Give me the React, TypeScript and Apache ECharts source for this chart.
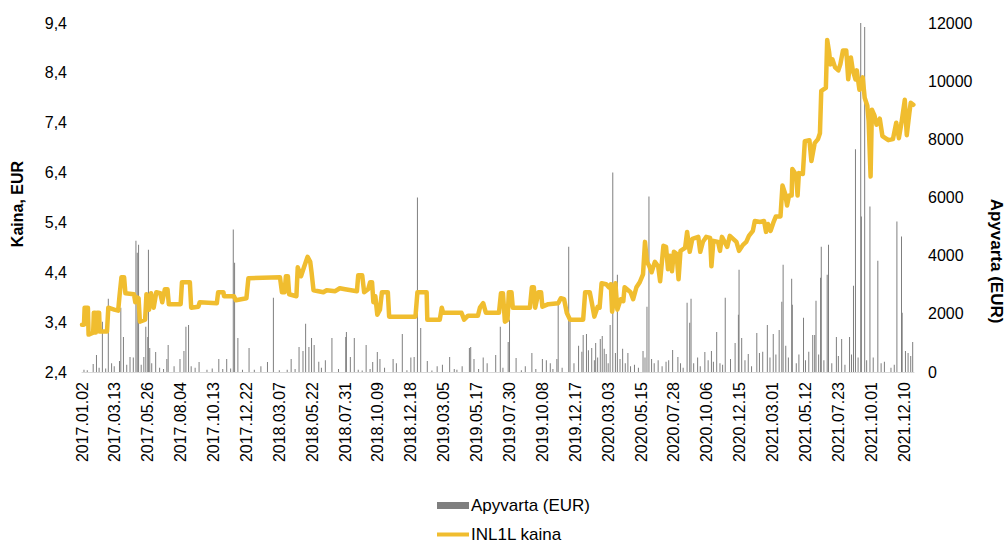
import React, { useEffect, useRef } from "react";
import * as echarts from "echarts";

const FONT = "'Liberation Sans', Arial, sans-serif";

// x tick labels, one every 50 trading days (index 0 = 2017.01.02)
const tickLabels = [
  "2017.01.02", "2017.03.13", "2017.05.26", "2017.08.04", "2017.10.13", "2017.12.22",
  "2018.03.07", "2018.05.22", "2018.07.31", "2018.10.09", "2018.12.18",
  "2019.03.05", "2019.05.17", "2019.07.30", "2019.10.08", "2019.12.17",
  "2020.03.03", "2020.05.15", "2020.07.28", "2020.10.06", "2020.12.15",
  "2021.03.01", "2021.05.12", "2021.07.23", "2021.10.01", "2021.12.10",
];

// INL1L price: trading-day index and price (EUR)
const priceDay = [
  0, 3, 4, 9, 10, 17, 18, 20, 21, 23, 26, 27, 38, 40, 49, 55, 57, 60, 64, 66, 79, 81, 83, 86, 88, 96, 98, 102, 105, 109,
  113, 119, 122, 126, 130, 132, 150, 152, 164, 166, 177, 179, 205, 207, 215, 216, 231, 234, 250, 253, 301, 304, 308, 310, 313, 315, 326, 328, 333, 338,
  343, 347, 349, 352, 367, 372, 385, 392, 400, 418, 420, 426, 429, 435, 438, 441, 443, 446, 449, 453, 456, 465, 467, 507, 510, 524, 525, 544, 547, 549,
  577, 581, 587, 602, 605, 610, 614, 634, 637, 640, 643, 647, 649, 653, 655, 681, 684, 687, 689, 694, 698, 700, 709, 724, 728, 733, 737, 742, 762, 765,
  772, 775, 779, 784, 787, 790, 797, 801, 804, 806, 809, 811, 814, 819, 823, 825, 834, 838, 843, 848, 853, 856, 859, 862, 866, 871, 876, 879, 884, 888,
  891, 894, 897, 900, 904, 907, 910, 917, 920, 924, 928, 937, 940, 944, 949, 955, 957, 960, 967, 970, 973, 981, 985, 990, 995, 999, 1005, 1010, 1014, 1020,
  1023, 1031, 1037, 1040, 1043, 1047, 1051, 1055, 1062, 1065, 1069, 1072, 1075, 1079, 1080, 1084, 1086, 1088, 1090, 1096, 1099, 1106, 1109, 1114, 1119, 1122, 1124, 1131, 1133, 1136,
  1138, 1141, 1145, 1150, 1153, 1157, 1162, 1165, 1169, 1172, 1176, 1178, 1182, 1187, 1190, 1194, 1196, 1199, 1201, 1205, 1208, 1213, 1217, 1226, 1233, 1238, 1242, 1246, 1251, 1254,
  1258, 1260, 1264,
];
const priceValue = [
  3.35, 3.35, 3.69, 3.69, 3.15, 3.19, 3.59, 3.59, 3.19, 3.59, 3.59, 3.21, 3.21, 3.69, 3.65, 3.63, 3.92, 4.30, 4.30, 3.98, 3.96, 3.80, 3.90, 3.88, 3.41, 3.45, 3.96, 3.65, 3.98, 3.69,
  4.00, 3.98, 3.80, 4.06, 4.06, 3.76, 3.76, 4.20, 4.20, 3.69, 3.71, 3.80, 3.78, 4.00, 4.00, 3.92, 3.92, 3.84, 3.88, 4.28, 4.30, 4.00, 4.00, 4.32, 4.32, 3.96, 3.92, 4.50, 4.32, 4.52,
  4.71, 4.61, 4.40, 4.04, 4.00, 4.04, 4.02, 4.08, 4.06, 4.02, 4.34, 4.34, 4.00, 4.06, 4.20, 4.20, 3.80, 3.92, 3.55, 3.65, 4.00, 4.00, 3.51, 3.51, 4.00, 4.00, 3.45, 3.45, 3.69, 3.59,
  3.59, 3.45, 3.53, 3.53, 3.69, 3.78, 3.59, 3.59, 3.98, 3.98, 3.41, 3.45, 4.00, 4.00, 3.69, 3.69, 4.10, 4.10, 3.69, 4.00, 4.00, 3.71, 3.76, 3.78, 3.88, 3.86, 3.59, 3.45, 3.45, 4.00,
  4.00, 3.80, 3.51, 3.71, 3.69, 4.18, 4.16, 4.10, 4.16, 3.61, 3.86, 4.18, 3.65, 3.86, 3.82, 4.10, 4.00, 3.86, 4.10, 4.20, 4.36, 5.01, 4.61, 4.54, 4.40, 4.61, 4.52, 4.22, 4.93, 4.91,
  4.46, 4.73, 4.42, 4.81, 4.77, 4.26, 4.83, 4.89, 5.21, 4.81, 5.07, 5.11, 4.81, 5.01, 5.11, 5.09, 4.52, 5.03, 5.01, 4.83, 5.11, 4.91, 5.13, 5.07, 5.01, 4.83, 4.95, 5.01, 5.13, 5.23,
  5.43, 5.41, 5.43, 5.21, 5.37, 5.23, 5.39, 5.52, 5.52, 6.14, 5.98, 5.74, 5.94, 5.94, 6.47, 6.39, 6.32, 5.94, 6.39, 6.37, 7.03, 7.05, 6.63, 6.99, 7.07, 7.19, 8.04, 8.10, 9.06, 8.81,
  8.57, 8.67, 8.51, 8.45, 8.57, 8.85, 8.85, 8.27, 8.71, 8.45, 8.27, 8.45, 8.06, 8.31, 7.90, 7.74, 7.44, 6.32, 7.66, 7.54, 7.36, 7.48, 7.13, 7.05, 7.07, 7.40, 7.09, 7.40, 7.86, 7.15,
  7.60, 7.80, 7.76,
];

// Turnover (EUR): trading-day index and value
const volumeDay = [
  3, 8, 17, 22, 26, 31, 36, 40, 45, 49, 57, 59, 63, 68, 73, 78, 82, 84, 86, 90, 94, 97, 100, 101, 103, 106, 112, 118, 124, 129,
  131, 140, 149, 155, 158, 162, 166, 172, 178, 190, 198, 208, 214, 220, 226, 230, 232, 237, 244, 254, 262, 272, 282, 291, 300, 312, 318, 324, 330, 336,
  340, 345, 349, 353, 360, 364, 370, 380, 390, 401, 402, 408, 414, 420, 426, 432, 438, 442, 449, 453, 460, 473, 478, 487, 494, 500, 505, 510, 515, 525,
  532, 540, 548, 559, 566, 570, 578, 589, 591, 596, 603, 610, 616, 629, 636, 640, 648, 650, 660, 668, 674, 684, 690, 700, 706, 712, 716, 722, 724, 730,
  740, 742, 748, 755, 760, 762, 767, 770, 775, 779, 781, 784, 788, 791, 794, 797, 800, 803, 807, 811, 814, 818, 822, 826, 830, 834, 840, 846, 853, 856,
  859, 862, 866, 870, 876, 882, 888, 892, 898, 906, 910, 914, 920, 924, 926, 930, 936, 940, 947, 952, 957, 960, 965, 970, 974, 978, 986, 993, 998, 999,
  1003, 1008, 1013, 1018, 1026, 1030, 1035, 1042, 1046, 1051, 1055, 1060, 1064, 1066, 1070, 1074, 1079, 1080, 1086, 1090, 1097, 1100, 1105, 1111, 1114, 1116, 1120, 1123, 1124, 1128,
  1133, 1135, 1140, 1147, 1150, 1155, 1160, 1167, 1170, 1173, 1176, 1180, 1184, 1185, 1190, 1193, 1198, 1203, 1210, 1215, 1220, 1230, 1235, 1239, 1246, 1247, 1252, 1256, 1260, 1263,
];
const volumeValue = [
  80, 60, 276, 586, 150, 1724, 120, 2517, 300, 200, 380, 2207, 1207, 250, 517, 500, 4517, 4103, 4379, 250, 517, 1552, 1207, 4207, 827, 300, 690, 150, 100, 448,
  931, 200, 448, 724, 1552, 1620, 200, 150, 345, 80, 120, 448, 100, 448, 120, 4896, 3758, 1172, 80, 827, 80, 200, 345, 2551, 60, 80, 448, 100, 862, 724,
  1655, 862, 1172, 931, 350, 150, 400, 1172, 100, 1207, 1379, 517, 1172, 80, 50, 931, 100, 345, 690, 448, 150, 448, 300, 1310, 60, 500, 517, 6000, 1517, 380,
  50, 200, 250, 517, 100, 80, 200, 827, 862, 448, 100, 500, 300, 586, 1552, 150, 1034, 1793, 482, 60, 200, 655, 100, 448, 400, 300, 100, 448, 2379, 150,
  4310, 1724, 300, 900, 700, 1276, 1310, 750, 827, 400, 1000, 500, 1138, 1241, 800, 620, 300, 1620, 6862, 650, 3345, 450, 800, 300, 650, 200, 250, 150, 724, 500,
  2241, 6034, 450, 300, 400, 200, 350, 400, 758, 517, 300, 150, 2379, 1690, 2517, 300, 500, 200, 690, 400, 724, 350, 1379, 300, 250, 2551, 450, 1000, 1965, 3517,
  1172, 400, 620, 200, 1345, 650, 700, 1620, 500, 1310, 600, 1448, 2414, 3689, 900, 500, 3207, 2310, 300, 600, 1862, 400, 700, 1276, 1276, 2448, 600, 3241, 4310, 400,
  3345, 4379, 300, 1207, 550, 1138, 250, 1207, 600, 2965, 7655, 500, 12000, 5345, 11862, 400, 5690, 500, 3827, 300, 350, 150, 250, 5172, 4655, 2034, 724, 650, 550, 1034,
];

const priceName = "INL1L kaina";
const volumeName = "Apyvarta (EUR)";
const leftTitle = "Kaina, EUR";
const rightTitle = "Apyvarta (EUR)";

export default function App() {
  const ref = useRef<HTMLDivElement>(null);

  useEffect(() => {
    if (!ref.current) return;
    const chart = echarts.init(ref.current, null, { renderer: "svg" });
    const priceData = priceDay.map((d, i) => [d, priceValue[i]]);
    const volumeData = volumeDay.map((d, i) => [d, volumeValue[i]]);

    chart.setOption({
      animation: false,
      backgroundColor: "#ffffff",
      textStyle: { fontFamily: FONT },
      grid: { left: 82, right: 93, top: 23, bottom: 171, containLabel: false },
      legend: {
        orient: "vertical",
        left: 437,
        top: 497,
        padding: 0,
        itemWidth: 32,
        itemHeight: 7,
        itemGap: 12,
        symbolKeepAspect: true,
        textStyle: { fontSize: 17, color: "#000", fontFamily: FONT, padding: [0, 0, 0, -3] },
        data: [
          { name: volumeName, icon: "rect" },
          { name: priceName, icon: "path://M0,0L32,0L32,4L0,4Z" },
        ],
      },
      xAxis: {
        type: "value",
        min: 0,
        max: 1265,
        interval: 50,
        axisLine: { show: true, lineStyle: { color: "#d9d9d9", width: 1 } },
        axisTick: { show: false },
        splitLine: { show: false },
        axisLabel: {
          rotate: 90,
          margin: 10,
          fontSize: 16,
          color: "#000",
          fontFamily: FONT,
          showMaxLabel: false,
          formatter: (v: number) => (v % 50 === 0 && tickLabels[v / 50] ? tickLabels[v / 50] : ""),
        },
      },
      yAxis: [
        {
          type: "value",
          min: 2.4,
          max: 9.4,
          interval: 1,
          axisLine: { show: false },
          axisTick: { show: false },
          splitLine: { show: false },
          axisLabel: {
            fontSize: 16,
            color: "#000",
            fontFamily: FONT,
            margin: 15,
            formatter: (v: number) => v.toFixed(1).replace(".", ","),
          },
        },
        {
          type: "value",
          position: "right",
          min: 0,
          max: 12000,
          interval: 2000,
          axisLine: { show: false },
          axisTick: { show: false },
          splitLine: { show: false },
          axisLabel: {
            fontSize: 16,
            color: "#000",
            fontFamily: FONT,
            margin: 14,
            formatter: (v: number) => String(Math.round(v)),
          },
        },
      ],
      graphic: [
        {
          type: "text",
          x: 17,
          y: 204,
          rotation: Math.PI / 2,
          style: {
            text: leftTitle,
            font: `bold 16px ${FONT}`,
            fill: "#000",
            textAlign: "center",
            textVerticalAlign: "middle",
          },
        },
        {
          type: "text",
          x: 996,
          y: 261,
          rotation: -Math.PI / 2,
          style: {
            text: rightTitle,
            font: `bold 17px ${FONT}`,
            fill: "#000",
            textAlign: "center",
            textVerticalAlign: "middle",
          },
        },
      ],
      series: [
        {
          name: volumeName,
          type: "bar",
          yAxisIndex: 1,
          barWidth: 1,
          itemStyle: { color: "#7f7f7f" },
          data: volumeData,
          z: 1,
        },
        {
          name: priceName,
          type: "line",
          yAxisIndex: 0,
          symbol: "none",
          showSymbol: false,
          lineStyle: { color: "#F0BD2F", width: 4.5, join: "round", cap: "round" },
          itemStyle: { color: "#F0BD2F" },
          data: priceData,
          z: 3,
        },
      ],
    });

    return () => chart.dispose();
  }, []);

  return (
    <div
      ref={ref}
      style={{ position: "fixed", left: 0, top: 0, width: 1007, height: 543, background: "#fff" }}
    />
  );
}
